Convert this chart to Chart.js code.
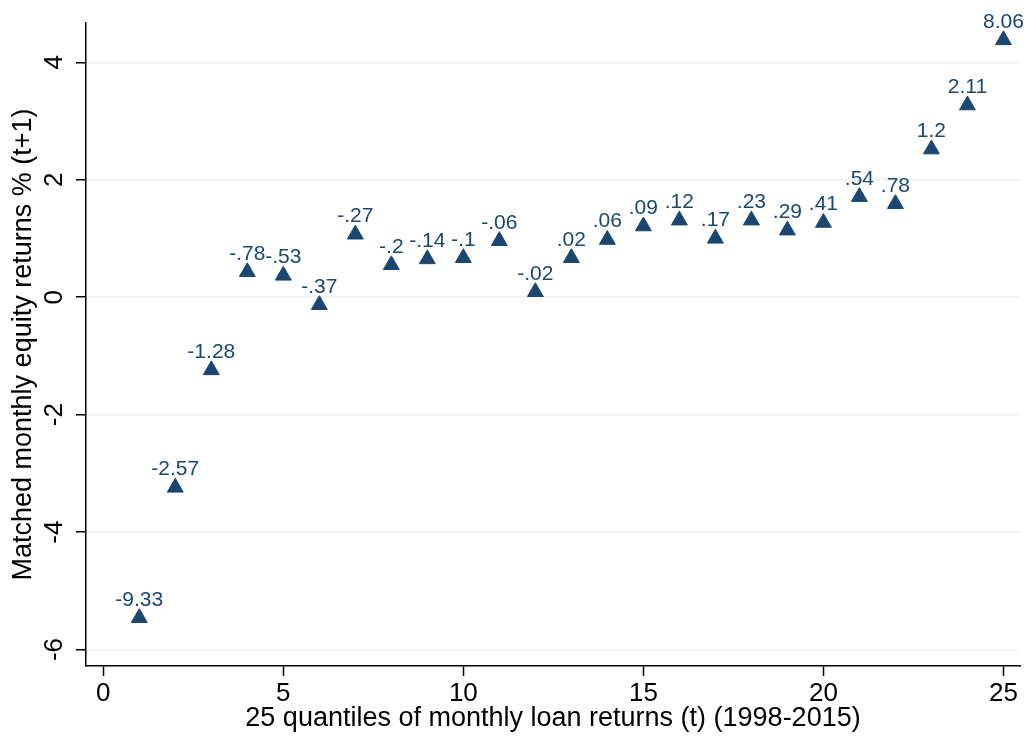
<!DOCTYPE html>
<html>
<head>
<meta charset="utf-8">
<script src="https://cdn.jsdelivr.net/npm/chart.js@4/dist/chart.umd.min.js"></script>
<style>
  html, body { margin: 0; padding: 0; background: #fff; }
  #wrap { width: 1025px; height: 736px; }
</style>
</head>
<body>
<div id="wrap"><canvas id="quant" width="1025" height="736"></canvas></div>
<script>
// quantile number (x) and matched equity return next month (y)
const quantiles = [1,2,3,4,5,6,7,8,9,10,11,12,13,14,15,16,17,18,19,20,21,22,23,24,25]
const equityRet = [-5.46,-3.24,-1.24,0.43,0.37,-0.13,1.07,0.55,0.65,0.67,0.96,0.09,0.67,0.98,1.21,1.31,1.00,1.31,1.14,1.27,1.71,1.59,2.52,3.27,4.38]
// text printed over each marker
const loanLabels = ["-9.33","-2.57","-1.28","-.78","-.53","-.37","-.27","-.2","-.14","-.1","-.06","-.02",".02",".06",".09",".12",".17",".23",".29",".41",".54",".78","1.2","2.11","8.06"]
const yTicks = [-6,-4,-2,0,2,4]
const xTicks = [0,5,10,15,20,25]

const navy = "#1a476f"
const fam = "'Liberation Sans', Arial, Helvetica, sans-serif"

const pts = quantiles.map((q, i) => ({x: q, y: equityRet[i]}))

// labels above the triangles
const markerLabels = {
  id: "markerLabels",
  afterDatasetsDraw(chart) {
    const ctx = chart.ctx
    const meta = chart.getDatasetMeta(0)
    ctx.save()
    ctx.fillStyle = navy
    ctx.font = "21px " + fam
    ctx.textAlign = "center"
    ctx.textBaseline = "alphabetic"
    meta.data.forEach((p, i) => {
      ctx.fillText(loanLabels[i], p.x, p.y - 9.2 - 3)
    })
    ctx.restore()
  }
}

Chart.defaults.font.family = fam
Chart.defaults.color = "#000"

const noPad = s => { s.paddingLeft = 0; s.paddingRight = 0; s.paddingTop = 0; s.paddingBottom = 0 }

const quantChart = new Chart(document.getElementById("quant"), {
  type: "scatter",
  data: {
    datasets: [{
      data: pts,
      pointStyle: "triangle",
      pointRadius: 9.2,
      pointHoverRadius: 9.2,
      backgroundColor: navy,
      borderColor: navy,
      borderWidth: 1,
      clip: false
    }]
  },
  options: {
    responsive: false,
    animation: false,
    devicePixelRatio: 1,
    layout: { autoPadding: false, padding: { left: 0, right: 5, top: 23, bottom: 0 } },
    plugins: {
      legend: { display: false },
      tooltip: { enabled: false }
    },
    scales: {
      x: {
        type: "linear",
        min: -0.48,
        max: 25.46,
        afterFit: s => { s.height = 70; noPad(s) },
        afterBuildTicks: s => { s.ticks = xTicks.map(v => ({value: v})) },
        ticks: { font: { size: 26 }, color: "#000", padding: 2, includeBounds: false },
        grid: { drawOnChartArea: false, drawTicks: true, tickLength: 10, tickColor: "#000", tickWidth: 1.5 },
        border: { display: true, color: "#000", width: 1.5 },
        title: {
          display: true,
          text: "25 quantiles of monthly loan returns (t) (1998-2015)",
          font: { size: 27 },
          color: "#000",
          padding: { top: 0, bottom: 1 }
        }
      },
      y: {
        type: "linear",
        min: -6.28,
        max: 4.67,
        afterFit: s => { s.width = 86; noPad(s) },
        afterBuildTicks: s => { s.ticks = yTicks.map(v => ({value: v})) },
        ticks: {
          font: { size: 26 },
          color: "#000",
          minRotation: 90,
          maxRotation: 90,
          crossAlign: "center",
          padding: 10,
          includeBounds: false
        },
        grid: { color: "#eaf2f3", lineWidth: 1.5, tickLength: 10, tickColor: "#000", tickWidth: 1.5 },
        border: { display: true, color: "#000", width: 1.5 },
        title: {
          display: true,
          text: "Matched monthly equity returns % (t+1)",
          font: { size: 27 },
          color: "#000",
          padding: { top: 7, bottom: 0 }
        }
      }
    }
  },
  plugins: [markerLabels]
})
</script>
</body>
</html>
